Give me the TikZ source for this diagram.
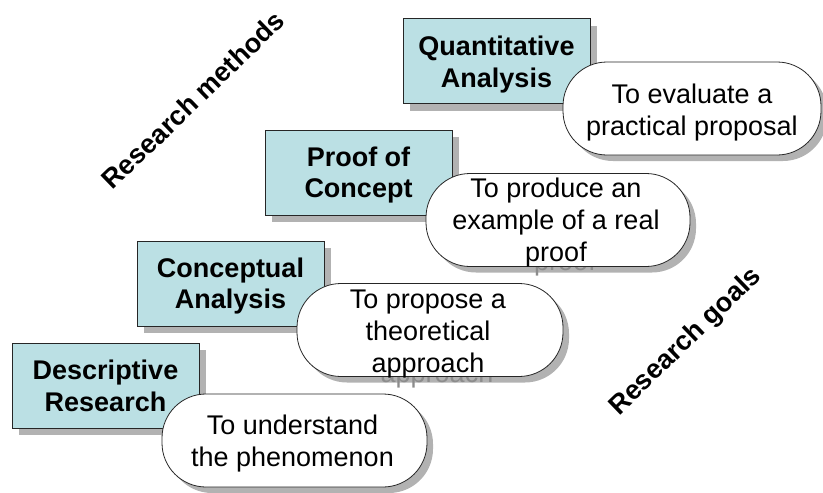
\documentclass[tikz,border=0pt]{standalone}
\usepackage{fontspec}
\setmainfont{Liberation Sans}
\definecolor{boxfill}{RGB}{187,224,228}
\definecolor{shadegray}{RGB}{178,178,178}
\definecolor{shadetext}{RGB}{140,140,140}
\tikzset{
  methodbox/.style={draw=black!85, line width=0.8pt, fill=boxfill, minimum width=187pt, minimum height=85pt, inner sep=0pt},
  methodtext/.style={inner sep=0pt, align=center, font=\fontsize{27}{31.7}\selectfont\bfseries},
  methodshade/.style={fill=shadegray, minimum width=187pt, minimum height=85pt, inner sep=0pt},
  pillbox/.style={draw=black!85, line width=0.8pt, fill=white, rounded corners=44pt, minimum height=93pt, inner sep=0pt},
  pillshade/.style={fill=shadegray, rounded corners=44pt, minimum height=93pt, inner sep=0pt},
  goaltext/.style={align=center, inner sep=0pt, font=\fontsize{27}{32}\selectfont},
  goalshade/.style={goaltext, text=shadetext},
  axislabel/.style={inner sep=0pt, rotate=44, font=\fontsize{27}{31.7}\selectfont\bfseries}
}
\begin{document}
\begin{tikzpicture}[x=1pt,y=-1pt]
\useasboundingbox (0,0) rectangle (823,493);

% axis labels
\node[axislabel] (methods) at (193,100) {Research methods};
\node[axislabel] (goals) at (686,342) {Research goals};

% Level 1: Quantitative Analysis
\node[methodshade] (qs) at (503.5,68) {};
\node[methodbox] (q) at (496.5,61) {};
\node[methodtext] (qt) at (496.5,64.5) {Quantitative\\Analysis};
\node[pillshade, minimum width=258pt] (g1s) at (698,114.5) {};
\node[goalshade] (t1s) at (700,122) {To evaluate a\\practical proposal};
\node[pillbox, minimum width=258pt] (g1) at (692,108.5) {};
\node[goaltext] (t1) at (692,113) {To evaluate a\\practical proposal};

% Level 2: Proof of Concept
\node[methodshade] (ps) at (365.5,179.5) {};
\node[methodbox] (p) at (358.5,172.5) {};
\node[methodtext] (pt) at (358.5,175) {Proof of\\Concept};
\node[pillshade, minimum width=264pt] (g2s) at (564,226) {};
\node[goalshade] (t2s) at (565,232) {To produce an\\example of a real\\proof};
\node[pillbox, minimum width=264pt] (g2) at (558,220) {};
\node[goaltext] (t2) at (556,223) {To produce an\\example of a real\\proof};

% Level 3: Conceptual Analysis
\node[methodshade] (cs) at (237.5,290.5) {};
\node[methodbox] (c) at (230.5,283.5) {};
\node[methodtext] (ct) at (230.5,286) {Conceptual\\Analysis};
\node[pillshade, minimum width=266pt] (g3s) at (436,336) {};
\node[goalshade] (t3s) at (437,344) {To propose a\\theoretical\\approach};
\node[pillbox, minimum width=266pt] (g3) at (430,330) {};
\node[goaltext] (t3) at (428,334.5) {To propose a\\theoretical\\approach};

% Level 4: Descriptive Research
\node[methodshade] (ds) at (112.5,392.5) {};
\node[methodbox] (d) at (105.5,385.5) {};
\node[methodtext] (dt) at (105.5,385.5) {Descriptive\\Research};
\node[pillshade, minimum width=265pt] (g4s) at (300.5,446.5) {};
\node[goalshade] (t4s) at (301.5,453) {To understand\\the phenomenon};
\node[pillbox, minimum width=265pt] (g4) at (294.5,440.5) {};
\node[goaltext] (t4) at (292.5,444) {To understand\\the phenomenon};
\end{tikzpicture}
\end{document}
